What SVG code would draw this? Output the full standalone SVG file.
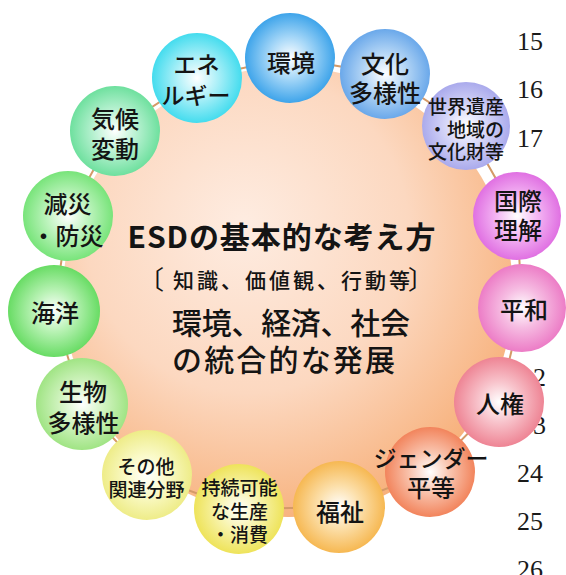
<svg xmlns="http://www.w3.org/2000/svg" width="566" height="575" viewBox="0 0 566 575">
<defs>
<style>
.t{font-family:"Noto Sans CJK JP","Noto Sans CJK SC",sans-serif;font-weight:500;fill:#141414;text-anchor:middle;dominant-baseline:central}
.m{font-size:24px}
.k{font-size:23px}
.s{font-size:19px}
.c{font-family:"Noto Sans CJK JP","Noto Sans CJK SC",sans-serif;fill:#141414;dominant-baseline:central}
.n{font-family:"Liberation Serif","Times New Roman",serif;font-size:26px;fill:#1a1a1a}
.ring{stroke:#d49a68;stroke-width:2;fill:none}
</style>
<radialGradient id="peach" cx="42%" cy="38%" r="65%" fx="40%" fy="35%">
<stop offset="0" stop-color="#feece1"/>
<stop offset="0.55" stop-color="#fcd8c0"/>
<stop offset="1" stop-color="#f7b07a"/>
</radialGradient>
<radialGradient id="gBlue"><stop offset="0" stop-color="#ffffff"/><stop offset="0.45" stop-color="#a8d8f8"/><stop offset="1" stop-color="#3ea4ea"/></radialGradient>
<radialGradient id="gLBlue"><stop offset="0" stop-color="#ffffff"/><stop offset="0.45" stop-color="#b8d8f6"/><stop offset="1" stop-color="#6aa8ea"/></radialGradient>
<radialGradient id="gLav"><stop offset="0" stop-color="#ffffff"/><stop offset="0.45" stop-color="#d8d8f8"/><stop offset="1" stop-color="#aaaaec"/></radialGradient>
<radialGradient id="gMag"><stop offset="0" stop-color="#ffffff"/><stop offset="0.45" stop-color="#f4b8f4"/><stop offset="1" stop-color="#e070e2"/></radialGradient>
<radialGradient id="gPink"><stop offset="0" stop-color="#ffffff"/><stop offset="0.45" stop-color="#f6bce2"/><stop offset="1" stop-color="#ec7cc6"/></radialGradient>
<radialGradient id="gRose"><stop offset="0" stop-color="#ffffff"/><stop offset="0.45" stop-color="#f8c4cc"/><stop offset="1" stop-color="#ee8494"/></radialGradient>
<radialGradient id="gCoral"><stop offset="0" stop-color="#ffffff"/><stop offset="0.45" stop-color="#f9c4ae"/><stop offset="1" stop-color="#f2845c"/></radialGradient>
<radialGradient id="gOrange"><stop offset="0" stop-color="#ffffff"/><stop offset="0.45" stop-color="#fce0ac"/><stop offset="1" stop-color="#f6b852"/></radialGradient>
<radialGradient id="gYellow"><stop offset="0" stop-color="#ffffff"/><stop offset="0.45" stop-color="#f8f4b0"/><stop offset="1" stop-color="#eee35a"/></radialGradient>
<radialGradient id="gLYellow"><stop offset="0" stop-color="#ffffff"/><stop offset="0.45" stop-color="#fafac8"/><stop offset="1" stop-color="#eeec88"/></radialGradient>
<radialGradient id="gLGreen"><stop offset="0" stop-color="#ffffff"/><stop offset="0.45" stop-color="#d4f4c4"/><stop offset="1" stop-color="#a0e484"/></radialGradient>
<radialGradient id="gGreen"><stop offset="0" stop-color="#ffffff"/><stop offset="0.45" stop-color="#b8f2b4"/><stop offset="1" stop-color="#68dc64"/></radialGradient>
<radialGradient id="gGreen2"><stop offset="0" stop-color="#ffffff"/><stop offset="0.45" stop-color="#c0f4c0"/><stop offset="1" stop-color="#78e47a"/></radialGradient>
<radialGradient id="gMint"><stop offset="0" stop-color="#ffffff"/><stop offset="0.45" stop-color="#bcf2d4"/><stop offset="1" stop-color="#6ee09e"/></radialGradient>
<radialGradient id="gCyan"><stop offset="0" stop-color="#ffffff"/><stop offset="0.45" stop-color="#aef0f8"/><stop offset="1" stop-color="#44dcee"/></radialGradient>
</defs>
<rect width="566" height="575" fill="#ffffff"/>
<g id="page-numbers">
<text class="n" x="517" y="50">15</text>
<text class="n" x="517" y="98">16</text>
<text class="n" x="517" y="147">17</text>
<text class="n" x="533" y="386">2</text>
<text class="n" x="533" y="434">3</text>
<text class="n" x="517" y="482">24</text>
<text class="n" x="517" y="530">25</text>
<text class="n" x="517" y="578">26</text>
</g>
<g id="center">
<circle cx="288" cy="292" r="225" fill="url(#peach)"/>
<text class="c" x="281.5" y="235" font-size="30" font-weight="700" text-anchor="middle" textLength="308" lengthAdjust="spacing">ESDの基本的な考え方</text>
<text class="c" x="138" y="277" font-size="26">〔</text>
<text class="c" x="173" y="279" font-size="21" textLength="237" lengthAdjust="spacing" font-weight="500">知識、価値観、行動等</text>
<text class="c" x="408" y="277" font-size="26">〕</text>
<text class="c" font-size="30" font-weight="500"><tspan x="172" y="321" textLength="238" lengthAdjust="spacing">環境、経済、社会</tspan><tspan x="172" y="358" textLength="223" lengthAdjust="spacing">の統合的な発展</tspan></text>
</g>
<g id="connectors">
<polygon class="ring" points="290,58 385,74 466,126 517,216 522,308 499,402 430,472 339,507 239,509 147,475 82,404 54,311 68,216 115,131 197,78"/>
</g>
<g id="node-kankyo"><circle cx="290" cy="58" r="45" fill="url(#gBlue)"/><text class="t m" x="291" y="61">環境</text></g>
<g id="node-bunka"><circle cx="385" cy="74" r="45" fill="url(#gLBlue)"/><text class="t m"><tspan x="385" y="62">文化</tspan><tspan x="385" y="91">多様性</tspan></text></g>
<g id="node-isan"><circle cx="466" cy="126" r="44" fill="url(#gLav)"/><text class="t s"><tspan x="466" y="105">世界遺産</tspan><tspan x="466" y="128">・地域の</tspan><tspan x="466" y="150">文化財等</tspan></text></g>
<g id="node-kokusai"><circle cx="517" cy="216" r="44" fill="url(#gMag)"/><text class="t m"><tspan x="518" y="199">国際</tspan><tspan x="518" y="228">理解</tspan></text></g>
<g id="node-heiwa"><circle cx="522" cy="308" r="44" fill="url(#gPink)"/><text class="t m" x="524" y="308">平和</text></g>
<g id="node-jinken"><circle cx="499" cy="402" r="45" fill="url(#gRose)"/><text class="t m" x="500" y="402">人権</text></g>
<g id="node-gender"><circle cx="430" cy="472" r="45" fill="url(#gCoral)"/><text class="t k"><tspan x="431" y="457">ジェンダー</tspan><tspan x="431" y="486" font-size="24">平等</tspan></text></g>
<g id="node-fukushi"><circle cx="339" cy="507" r="46" fill="url(#gOrange)"/><text class="t m" x="340" y="510">福祉</text></g>
<g id="node-jizoku"><circle cx="239" cy="509" r="45" fill="url(#gYellow)"/><text class="t s"><tspan x="239.5" y="486">持続可能</tspan><tspan x="239.5" y="510">な生産</tspan><tspan x="239.5" y="533">・消費</tspan></text></g>
<g id="node-sonota"><circle cx="147" cy="475" r="45" fill="url(#gLYellow)"/><text class="t s"><tspan x="146" y="465">その他</tspan><tspan x="146.5" y="488">関連分野</tspan></text></g>
<g id="node-seibutsu"><circle cx="82" cy="404" r="46" fill="url(#gLGreen)"/><text class="t m"><tspan x="83" y="390">生物</tspan><tspan x="83.5" y="421">多様性</tspan></text></g>
<g id="node-kaiyo"><circle cx="54" cy="311" r="46" fill="url(#gGreen)"/><text class="t m" x="55" y="311">海洋</text></g>
<g id="node-gensai"><circle cx="68" cy="216" r="45" fill="url(#gGreen2)"/><text class="t m"><tspan x="67.5" y="202">減災</tspan><tspan x="67.5" y="234">・防災</tspan></text></g>
<g id="node-kiko"><circle cx="115" cy="131" r="45" fill="url(#gMint)"/><text class="t m"><tspan x="115" y="117">気候</tspan><tspan x="115" y="147">変動</tspan></text></g>
<g id="node-energy"><circle cx="197" cy="78" r="45" fill="url(#gCyan)"/><text class="t k"><tspan x="196.5" y="63">エネ</tspan><tspan x="196" y="94">ルギー</tspan></text></g>
</svg>
